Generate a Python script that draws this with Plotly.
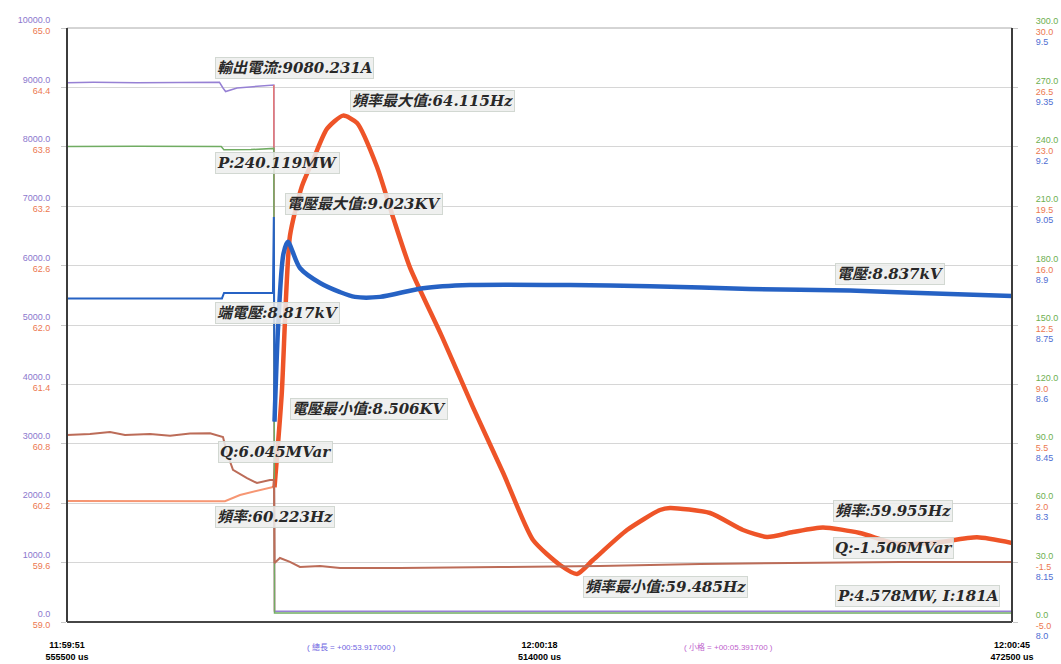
import plotly.graph_objects as go

# ---- recording window (seconds from 11:59:51.555500) ----
SPAN = 53.917
time_ticks = [0, SPAN / 2, SPAN]
time_labels = ["11:59:51<br>555500 us", "12:00:18<br>514000 us", "12:00:45<br>472500 us"]

# ---- output current (A) ----
cur_t = [0, 1.5, 4.0, 6.5, 8.70, 8.90, 9.05, 9.70, 11.0, 11.80, 11.84, 53.917]
cur_v = [9080, 9085, 9078, 9082, 9085, 8990, 8930, 8990, 9020, 9040, 181, 181]

# ---- active power P (MW) ----
p_t = [0, 4.0, 8.80, 8.95, 10.5, 11.80, 11.84, 53.917]
p_v = [240.1, 240.3, 240.1, 238.5, 238.6, 239.2, 4.578, 4.578]

# ---- reactive power Q (MVar) ----
q_t = [0, 1.31, 2.45, 3.31, 4.74, 5.88, 7.02, 8.16, 8.90, 9.13, 9.47, 10.27, 10.84,
       11.58, 11.81, 11.84, 12.15, 12.72, 13.29, 14.44, 15.58, 19.0, 24.71, 30.41,
       36.12, 41.82, 47.53, 53.917]
q_v = [6.02, 6.08, 6.20, 6.02, 6.08, 5.98, 6.10, 6.12, 5.90, 4.96, 3.96, 3.48, 3.19,
       3.37, 3.37, -1.52, -1.23, -1.46, -1.76, -1.70, -1.82, -1.82, -1.76, -1.70,
       -1.58, -1.52, -1.46, -1.46]

# ---- frequency (Hz) before and after the trip ----
f_pre_t = [0, 4.0, 9.01, 9.87, 11.75, 11.84]
f_pre_v = [60.223, 60.22, 60.22, 60.283, 60.364, 60.36]
f_post_t = [11.84, 12.25, 12.72, 13.40, 14.04, 14.83, 15.75, 16.55, 17.69, 18.60,
            19.57, 21.40, 23.16, 24.90, 26.59, 28.13, 29.10, 30.01, 31.95, 33.83,
            34.40, 36.69, 38.57, 39.94, 41.42, 43.13, 45.24, 47.36, 49.50, 51.92,
            53.917]
f_post_v = [60.36, 61.30, 62.90, 63.40, 63.667, 63.98, 64.115, 64.04, 63.596, 63.09,
            62.58, 61.88, 61.17, 60.50, 59.828, 59.576, 59.485, 59.626, 59.929,
            60.131, 60.152, 60.101, 59.929, 59.859, 59.909, 59.955, 59.899, 59.790,
            59.800, 59.855, 59.798]

# ---- terminal voltage (kV) ----
v_pre_t = [0, 8.84, 8.96, 11.75, 11.80, 11.84]
v_pre_v = [8.817, 8.817, 8.831, 8.831, 9.023, 8.506]
v_post_t = [11.84, 12.05, 12.35, 12.60, 13.29, 14.44, 15.58, 16.43, 17.86, 20.31,
            22.99, 28.70, 33.26, 38.97, 44.67, 50.38, 53.917]
v_post_v = [8.506, 8.75, 8.93, 8.960, 8.894, 8.856, 8.833, 8.821, 8.821, 8.843,
            8.851, 8.851, 8.848, 8.841, 8.837, 8.828, 8.823]

# ---- axis tick values ----
cur_ticks = [i * 1000 for i in range(11)]
f_ticks = [59.0 + 0.6 * i for i in range(11)]
p_ticks = [30 * i for i in range(11)]
q_ticks = [-5.0 + 3.5 * i for i in range(11)]
v_ticks = [8.0 + 0.15 * i for i in range(11)]

C_CUR = "rgb(150,128,212)"
C_FREQ = "rgb(238,84,40)"
C_FREQ_PRE = "rgb(246,150,115)"
C_P = "rgb(112,172,98)"
C_Q = "rgb(188,108,88)"
C_V = "rgb(38,98,196)"

fig = go.Figure()
fig.add_trace(go.Scatter(x=q_t, y=q_v, yaxis="y4", mode="lines",
                         line=dict(color=C_Q, width=2), name="Q"))
fig.add_trace(go.Scatter(x=p_t, y=p_v, yaxis="y3", mode="lines",
                         line=dict(color=C_P, width=1.5), name="P"))
fig.add_trace(go.Scatter(x=cur_t, y=cur_v, yaxis="y", mode="lines",
                         line=dict(color=C_CUR, width=1.5), name="輸出電流"))
# trip instant of the current trace
fig.add_trace(go.Scatter(x=[cur_t[9], cur_t[10]], y=[cur_v[9], cur_v[10]], yaxis="y",
                         mode="lines", line=dict(color="rgb(232,120,112)", width=1.5),
                         name="trip"))
fig.add_trace(go.Scatter(x=f_pre_t, y=f_pre_v, yaxis="y2", mode="lines",
                         line=dict(color=C_FREQ_PRE, width=2), name="頻率"))
fig.add_trace(go.Scatter(x=f_post_t, y=f_post_v, yaxis="y2", mode="lines",
                         line=dict(color=C_FREQ, width=4.5, shape="spline", smoothing=0.6),
                         name="頻率"))
fig.add_trace(go.Scatter(x=v_pre_t, y=v_pre_v, yaxis="y5", mode="lines",
                         line=dict(color=C_V, width=2), name="電壓"))
fig.add_trace(go.Scatter(x=v_post_t, y=v_post_v, yaxis="y5", mode="lines",
                         line=dict(color=C_V, width=4.5, shape="spline", smoothing=0.8),
                         name="電壓"))

tickfont = dict(family="Liberation Sans, Arial", size=9)


def fmt_one(v):
    s = "{:g}".format(round(v, 2))
    return s if "." in s else s + ".0"


def yax(rng, ticks, texts, color, side, shift, standoff, grid=False, overlay=True):
    d = dict(range=rng, tickvals=ticks, ticktext=texts,
             side=side, showgrid=grid, gridcolor="rgb(214,214,214)", gridwidth=1,
             zeroline=False, showline=False, ticks="outside", ticklen=5,
             tickcolor="rgb(200,200,200)", tickfont=dict(tickfont, color=color),
             ticklabelshift=shift, ticklabelstandoff=standoff, fixedrange=True,
             automargin=False)
    if overlay:
        d["overlaying"] = "y"
        d["anchor"] = "x"
    return d


fig.update_layout(
    width=1061, height=664,
    margin=dict(l=67, r=49, t=28, b=42, autoexpand=False),
    paper_bgcolor="white", plot_bgcolor="white",
    showlegend=False,
    xaxis=dict(range=[0, SPAN], tickvals=time_ticks, ticktext=time_labels,
               showgrid=False, zeroline=False, showline=False, ticks="",
               tickfont=dict(family="Liberation Sans, Arial", size=9, color="black",
                             weight="bold"),
               ticklabelstandoff=16, automargin=False),
    yaxis=yax([0, 10000], cur_ticks, ["{:.1f}".format(v) for v in cur_ticks],
              "rgb(140,120,205)", "left", -8, 9, grid=True, overlay=False),
    yaxis2=yax([59, 65], f_ticks, ["{:.1f}".format(v) for v in f_ticks],
               "rgb(236,120,80)", "left", 3, 9),
    yaxis3=yax([0, 300], p_ticks, ["{:.1f}".format(v) for v in p_ticks],
               "rgb(110,175,80)", "right", -7, 16),
    yaxis4=yax([-5, 30], q_ticks, ["{:.1f}".format(v) for v in q_ticks],
               "rgb(236,120,80)", "right", 4, 16),
    yaxis5=yax([8.0, 9.5], v_ticks, [fmt_one(v) for v in v_ticks],
               "rgb(80,110,210)", "right", 14, 16),
)

# plot frame
fig.add_shape(type="line", xref="paper", yref="paper", x0=0, x1=1, y0=1, y1=1,
              line=dict(color="rgb(170,170,170)", width=1))
for xv in (0, 1):
    fig.add_shape(type="line", xref="paper", yref="paper", x0=xv, x1=xv, y0=0, y1=1,
                  line=dict(color="rgb(60,60,60)", width=2))
fig.add_shape(type="line", xref="paper", yref="paper", x0=0, x1=1, y0=0, y1=0,
              line=dict(color="rgb(70,70,70)", width=2))

# value labels
lab_font = dict(family="DejaVu Serif, Noto Sans CJK TC", size=15,
                color="rgb(40,40,40)", weight="bold", style="italic")
labels = [
    ("輸出電流:9080.231A", 8.44, 9327, "y"),
    ("頻率最大值:64.115Hz", 16.15, 64.263, "y2"),
    ("P:240.119MW", 8.44, 231.8, "y3"),
    ("電壓最大值:9.023KV", 12.44, 9.056, "y5"),
    ("端電壓:8.817kV", 8.44, 8.780, "y5"),
    ("電壓:8.837kV", 43.82, 8.879, "y5"),
    ("電壓最小值:8.506KV", 12.72, 8.538, "y5"),
    ("Q:6.045MVar", 8.62, 5.017, "y4"),
    ("頻率:60.223Hz", 8.44, 60.061, "y2"),
    ("頻率:59.955Hz", 43.70, 60.121, "y2"),
    ("Q:-1.506MVar", 43.70, -0.640, "y4"),
    ("頻率最小值:59.485Hz", 29.44, 59.354, "y2"),
    ("P:4.578MW, I:181A", 43.82, 13.13, "y3"),
]
for text, xv, yv, yr in labels:
    fig.add_annotation(text=text, x=xv, y=yv, xref="x", yref=yr,
                       xanchor="left", yanchor="middle", showarrow=False,
                       font=lab_font, bgcolor="rgba(236,237,236,0.85)",
                       bordercolor="rgba(205,212,205,0.9)", borderwidth=1, borderpad=1)

# span information under the time axis
fig.add_annotation(text="( 總長 = +00:53.917000 )", x=0.2519, y=-0.054, xref="paper",
                   yref="paper", showarrow=False,
                   font=dict(family="Liberation Sans, Noto Sans CJK TC", size=8,
                             color="rgb(110,100,225)"))
fig.add_annotation(text="( 小格 = +00:05.391700 )", x=0.7497, y=-0.054, xref="paper",
                   yref="paper", showarrow=False,
                   font=dict(family="Liberation Sans, Noto Sans CJK TC", size=8,
                             color="rgb(190,95,205)"))

fig.write_html("out.html")
